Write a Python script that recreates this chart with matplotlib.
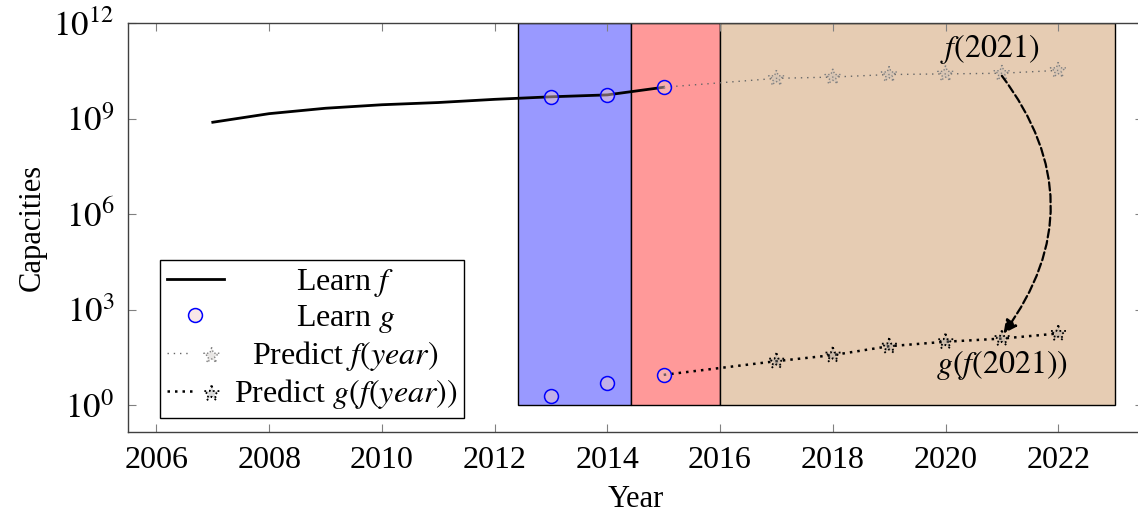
import numpy as np
import matplotlib.pyplot as plt
from matplotlib.patches import Rectangle
from matplotlib.legend_handler import HandlerTuple

plt.rcParams['font.family'] = ['Liberation Serif', 'DejaVu Serif']
plt.rcParams['mathtext.fontset'] = 'stix'
plt.rcParams['font.size'] = 22

# Learned f (capacity per year)
f_years = [2007, 2008, 2009, 2010, 2011, 2012, 2013, 2014, 2015]
f_log = [8.89, 9.16, 9.33, 9.44, 9.51, 9.61, 9.69, 9.75, 9.99]

# Learned g samples (both ends)
g_years = [2013, 2014, 2015, 2013, 2014, 2015]
g_log = [9.69, 9.75, 9.99, 0.30, 0.68, 0.95]

# Predictions
pred_years = [2015, 2017, 2018, 2019, 2020, 2021, 2022]
pred_f_log = [9.99, 10.27, 10.31, 10.39, 10.41, 10.43, 10.52]
pred_g_log = [0.95, 1.38, 1.57, 1.85, 1.99, 2.09, 2.25]

# Shaded periods: (start, end, colour)
periods = [(2012.42, 2014.42, '#9999ff'),
           (2014.42, 2016.0, '#ff9999'),
           (2016.0, 2023.0, '#e6ccb3')]

yticks = [0, 3, 6, 9, 12]
xticks = list(range(2006, 2023, 2))

fig = plt.figure(figsize=(11.38, 5.18), dpi=100)
ax = fig.add_axes([0.1127, 0.1654, 0.8915, 0.7896])
ax.set_yscale('log')
ax.set_xlim(2005.5, 2023.5)
ax.set_ylim(10 ** -0.857, 10 ** 12)

for x0, x1, c in periods:
    ax.add_patch(Rectangle((x0, 1), x1 - x0, 10 ** 12 - 1, facecolor=c,
                           edgecolor='black', linewidth=1, zorder=1))

f_line, = ax.plot(f_years, 10 ** np.array(f_log), color='black', lw=2, zorder=3)
g_pts, = ax.plot(g_years, 10 ** np.array(g_log), 'o', ls='none', ms=10,
                 mec='blue', mew=1.1, mfc=(0.95, 0.8, 0.8, 0.45), zorder=5)

pf_line, = ax.plot(pred_years, 10 ** np.array(pred_f_log), color='0.4',
                   lw=1, ls=(0, (1, 3.5)), zorder=3)
pf_pts = ax.scatter(pred_years[1:], 10 ** np.array(pred_f_log[1:]), marker='*',
                    s=140, facecolor=(0.75, 0.72, 0.7, 0.35), edgecolor='0.5',
                    linewidths=1, linestyles=':', zorder=4)

pg_line, = ax.plot(pred_years, 10 ** np.array(pred_g_log), color='black',
                   lw=1.8, ls=(0, (1, 2)), zorder=3)
pg_pts = ax.scatter(pred_years[1:], 10 ** np.array(pred_g_log[1:]), marker='*',
                    s=140, facecolor=(0.6, 0.6, 0.6, 0.35), edgecolor='black',
                    linewidths=1.3, linestyles=':', zorder=4)

# f(2021) -> g(f(2021))
ax.text(2020.79, 10 ** 11.2, '$f(2021)$', ha='center', va='center',
        fontsize=23, zorder=6)
ax.text(2021.0, 10 ** 1.26, '$g(f(2021))$', ha='center', va='center',
        fontsize=23, zorder=6)
ax.annotate('', xy=(2021.03, 10 ** 2.25), xytext=(2021, 10 ** 10.35),
            arrowprops=dict(arrowstyle='-|>', linestyle='--', color='black',
                            lw=1.6, mutation_scale=20, shrinkA=0, shrinkB=0,
                            connectionstyle='arc3,rad=-0.37'), zorder=6)

ax.set_xticks(xticks)
ax.set_xticklabels([str(x) for x in xticks], fontsize=23)
ax.set_yticks([10.0 ** k for k in yticks])
ax.set_yticklabels(['$10^{%d}$' % k for k in yticks], fontsize=25)
ax.minorticks_off()
ax.tick_params(direction='in', length=6, width=0.8, color='0.5',
               top=True, right=True)
ax.tick_params(axis='x', pad=10)
ax.tick_params(axis='y', pad=10)
for s in ax.spines.values():
    s.set_color('0.25')
    s.set_linewidth(1)

ax.set_xlabel('Year', labelpad=7)
ax.set_ylabel('Capacities', labelpad=5)

leg = ax.legend([f_line, g_pts, (pf_line, pf_pts), (pg_line, pg_pts)],
                ['Learn $f$', 'Learn $g$', 'Predict $f(year)$',
                 'Predict $g(f(year))$'],
                handler_map={tuple: HandlerTuple(ndivide=None)},
                loc='lower left', bbox_to_anchor=(0.031, 0.035),
                borderaxespad=0, fancybox=False, framealpha=1,
                edgecolor='black', numpoints=1, scatterpoints=1,
                handlelength=1.8, handletextpad=0.3, labelspacing=0.12,
                borderpad=0.22, fontsize=23)
leg.get_frame().set_linewidth(1)
leg.set_zorder(10)

# centre the legend labels in their column
fig.canvas.draw()
texts = leg.get_texts()
widths = [t.get_window_extent().width for t in texts]
for t, w in zip(texts, widths):
    t.set_x((max(widths) - w) / 2)

fig.savefig('out.png', dpi=100)
